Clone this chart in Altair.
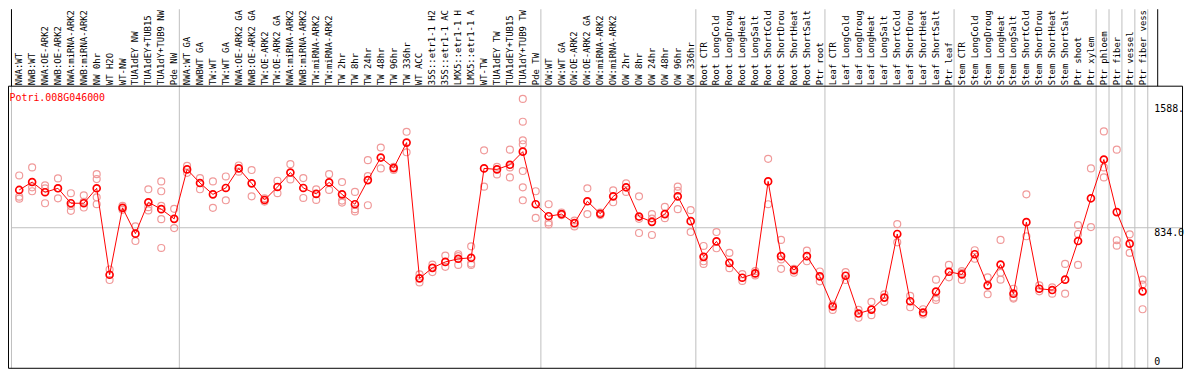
import altair as alt
import pandas as pd

gene = "Potri.008G046000"

labels = [
    "NWA:WT", "NWB:WT", "NWA:OE-ARK2", "NWB:OE-ARK2", "NWA:miRNA-ARK2", "NWB:miRNA-ARK2",
    "NW 0hr", "WT H2O", "WT-NW", "TUA1dEY NW", "TUA1dEY+TUB15", "TUA1dY+TUB9 NW", "Pde NW",
    "NWA:WT GA", "NWBWT GA", "TW:WT", "TW:WT GA", "NWA:OE-ARK2 GA", "NWB:OE-ARK2 GA",
    "TW:OE-ARK2", "TW:OE-ARK2 GA", "NWA:miRNA-ARK2", "NWB:miRNA-ARK2", "TW:miRNA-ARK2",
    "TW:miRNA-ARK2", "TW 2hr", "TW 8hr", "TW 24hr", "TW 48hr", "TW 96hr", "TW 336hr",
    "WT ACC", "35S::etr1-1 H2", "35S::etr1-1 AC", "LMX5::etr1-1 H", "LMX5::etr1-1 A",
    "WT-TW", "TUA1dEY TW", "TUA1dEY+TUB15", "TUA1dY+TUB9 TW", "Pde TW",
    "OW:WT", "OW:WT GA", "OW:OE-ARK2", "OW:OE-ARK2 GA", "OW:miRNA-ARK2", "OW:miRNA-ARK2",
    "OW 2hr", "OW 8hr", "OW 24hr", "OW 48hr", "OW 96hr", "OW 336hr",
    "Root CTR", "Root LongCold", "Root LongDroug", "Root LongHeat", "Root LongSalt",
    "Root ShortCold", "Root ShortDrou", "Root ShortHeat", "Root ShortSalt", "Ptr root",
    "Leaf CTR", "Leaf LongCold", "Leaf LongDroug", "Leaf LongHeat", "Leaf LongSalt",
    "Leaf ShortCold", "Leaf ShortDrou", "Leaf ShortHeat", "Leaf ShortSalt", "Ptr leaf",
    "Stem CTR", "Stem LongCold", "Stem LongDroug", "Stem LongHeat", "Stem LongSalt",
    "Stem ShortCold", "Stem ShortDrou", "Stem ShortHeat", "Stem ShortSalt", "Ptr shoot",
    "Ptr xylem", "Ptr phloem", "Ptr fiber", "Ptr vessel", "Ptr fiber vess",
]

means = [
    1064, 1112, 1050, 1074, 983, 983, 1074, 548, 955, 798, 989, 947, 888,
    1189, 1106, 1037, 1076, 1195, 1104, 1003, 1082, 1170, 1076, 1040, 1110, 1037, 977,
    1124, 1261, 1197, 1352, 526, 590, 626, 645, 651, 1195, 1189, 1217, 1297, 977,
    904, 917, 862, 995, 919, 1025, 1080, 902, 870, 917, 1025, 874,
    657, 751, 620, 530, 556, 1116, 661, 576, 661, 538,
    355, 542, 312, 336, 409, 796, 387, 318, 445, 566,
    550, 673, 483, 610, 433, 868, 463, 455, 518, 753, 1013,
    1249, 929, 737, 447,
]

reps = [
    [1152, 1023, 1011], [1201, 1080, 1056], [1092, 1074, 983], [1134, 1074, 1013],
    [1044, 967, 937], [1031, 991, 957], [1160, 1130, 1019, 977], [580, 516],
    [967, 943], [842, 753], [1068, 959, 939], [1116, 1056, 967, 886, 711], [949, 832],
    [1211, 1168], [1136, 1068], [1116, 955], [1146, 1001], [1213, 1175], [1185, 1025],
    [1013, 993], [1120, 1044], [1221, 1128], [1136, 1015], [1068, 1003], [1160, 1064],
    [1112, 999, 987], [1052, 947, 933], [1245, 1148, 971], [1322, 1195], [1205, 1185],
    [1418, 1293], [550, 501], [610, 564], [665, 596], [673, 661, 608], [721, 616, 608],
    [1305, 1084], [1205, 1158], [1309, 1201, 1140],
    [1618, 1479, 1366, 1342, 1179, 1080, 1001], [1056, 894],
    [977, 866, 854], [927, 911], [878, 842], [1074, 917], [927, 911], [1062, 989],
    [1104, 1052], [1025, 888, 802], [917, 890, 790], [961, 892], [1084, 1058, 947],
    [941, 808],
    [723, 630, 614], [808, 709], [681, 588], [552, 510], [570, 544], [1253, 977],
    [760, 641, 584], [584, 560], [695, 630], [568, 508],
    [367, 334], [564, 516], [334, 286], [383, 302], [429, 383], [856, 745],
    [419, 350], [338, 306], [518, 409, 395], [608, 532],
    [570, 560, 516], [697, 645], [532, 429], [760, 560, 518], [463, 409, 403],
    [1037, 782], [483, 447], [471, 433], [614, 433], [850, 796, 608], [1195, 838],
    [1420, 1201, 1140], [1309, 758, 725], [794, 681], [518, 488, 338],
]

group_sizes = [13, 28, 12, 10, 10, 11, 1, 1, 1, 1]
tick_values = [1588, 834, 0]
tick_labels = ["1588.", "834.0", "0"]

# ---- tables built from the arrays ----
idx = list(range(len(labels)))
df_main = pd.DataFrame({"i": idx, "label": labels, "mean": means})
df_reps = pd.DataFrame(
    [{"i": i, "v": v} for i, vals in enumerate(reps) for v in vals]
)
bounds = [0]
for g in group_sizes:
    bounds.append(bounds[-1] + g)
df_sep = pd.DataFrame({"s": [b - 0.6 for b in bounds]})
df_ticks = pd.DataFrame({"v": tick_values, "t": tick_labels})
df_one = pd.DataFrame({"gene": [gene]})

xs = alt.Scale(domain=[0, 87], range=[11.3, 1142.3], nice=False, zero=False)
ys = alt.Scale(domain=[0, 834], range=[358, 220], nice=False, zero=False)

FONT = "DejaVu Sans Mono"
GRID = "#BEBEBE"
PINK = "#F09A9A"
RED = "#FF0000"

X = alt.X("i:Q", scale=xs, axis=None)

seps = alt.Chart(df_sep).mark_rule(color=GRID, strokeWidth=1).encode(
    x=alt.X("s:Q", scale=xs, axis=None), y=alt.value(0), y2=alt.value(361.5)
)
sep_head = alt.Chart(df_sep.head(1)).mark_rule(color="black", strokeWidth=1).encode(
    x=alt.X("s:Q", scale=xs, axis=None), y=alt.value(0), y2=alt.value(77.5)
)
head_right = alt.Chart(df_one).mark_rule(color="black", strokeWidth=1).encode(
    x=alt.value(1157.5), y=alt.value(0), y2=alt.value(77.5)
)
grid834 = alt.Chart(df_ticks[df_ticks.t == "834.0"]).mark_rule(color=GRID, strokeWidth=1).encode(
    y=alt.Y("v:Q", scale=ys, axis=None), x=alt.value(3.5), x2=alt.value(1182)
)
frame = alt.Chart(df_one).mark_rect(fill="transparent", stroke="black", strokeWidth=1).encode(
    x=alt.value(0.5), x2=alt.value(1182.5), y=alt.value(77.5), y2=alt.value(361.5)
)

head_labels = alt.Chart(df_main).mark_text(
    angle=270, align="left", baseline="middle", font=FONT, fontSize=9, color="black"
).encode(x=X, y=alt.value(76.5), text="label:N")

title = alt.Chart(df_one).mark_text(
    align="left", baseline="alphabetic", font=FONT, fontSize=10, color=RED
).encode(x=alt.value(1.5), y=alt.value(92.5), text="gene:N")

tick_top = alt.Chart(df_ticks[df_ticks.v > 0]).mark_text(
    align="left", baseline="top", font=FONT, fontSize=10, color="black"
).encode(x=alt.value(1154), y=alt.Y("v:Q", scale=ys, axis=None), text="t:N")
tick_zero = alt.Chart(df_ticks[df_ticks.v == 0]).mark_text(
    align="left", baseline="alphabetic", font=FONT, fontSize=10, color="black"
).encode(x=alt.value(1154), y=alt.Y("v:Q", scale=ys, axis=None), text="t:N")

rep_pts = alt.Chart(df_reps).mark_point(
    shape="circle", size=49, filled=False, color=PINK, strokeWidth=1.2, opacity=1
).encode(x=X, y=alt.Y("v:Q", scale=ys, axis=None))

line = alt.Chart(df_main).mark_line(color=RED, strokeWidth=1).encode(
    x=X, y=alt.Y("mean:Q", scale=ys, axis=None)
)
mean_pts = alt.Chart(df_main).mark_point(
    shape="circle", size=49, filled=False, color=RED, strokeWidth=1.7, opacity=1
).encode(x=X, y=alt.Y("mean:Q", scale=ys, axis=None))

chart = alt.layer(
    seps, sep_head, head_right, grid834, frame, head_labels, title,
    tick_top, tick_zero, rep_pts, line, mean_pts
).properties(
    width=1186, height=362,
    autosize=alt.AutoSizeParams(type="none"),
    padding=0,
    background="white",
).configure_view(stroke=None)

chart.save("out.html", embed_options={"renderer": "svg", "actions": False})
